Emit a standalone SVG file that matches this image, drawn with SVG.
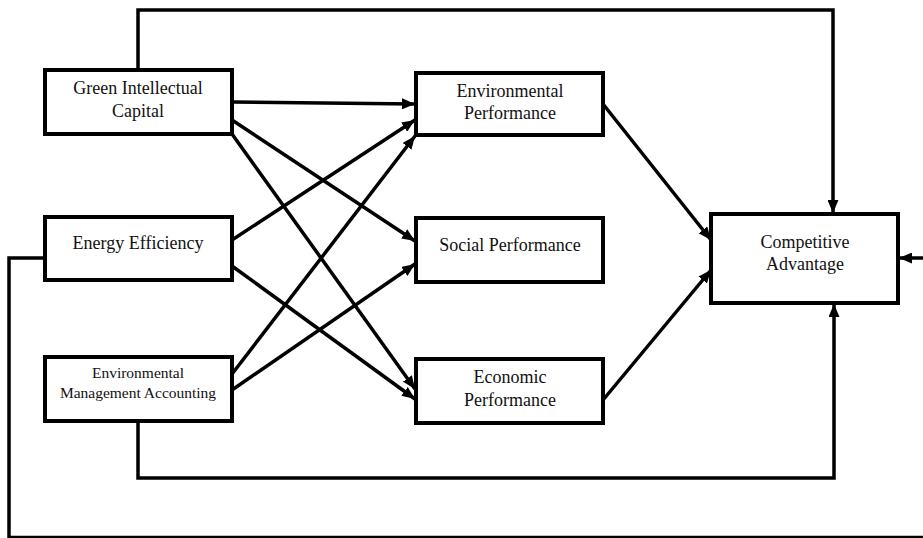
<svg xmlns="http://www.w3.org/2000/svg" width="923" height="538" viewBox="0 0 923 538">
<style>
.box{fill:#fff;stroke:#000;stroke-width:4}
.t{font-family:"Liberation Serif","Times New Roman",serif;font-size:18px;fill:#111;text-anchor:middle}
.s{font-size:15.5px}
.c{fill:none;stroke:#000;stroke-width:3.5}
</style>
<defs>
<marker id="ah" markerUnits="userSpaceOnUse" markerWidth="13" markerHeight="11" refX="13" refY="5.5" orient="auto">
<path d="M0,0 L13,5.5 L0,11 z" fill="#000"/>
</marker>
</defs>
<rect width="923" height="538" fill="#fff"/>
<g id="connectors">
<path class="c" d="M138,70 V10 H833 V213" marker-end="url(#ah)"/>
<path class="c" d="M232,102 L415,104" marker-end="url(#ah)"/>
<path class="c" d="M232,120 L415,241" marker-end="url(#ah)"/>
<path class="c" d="M232,134 L415,389" marker-end="url(#ah)"/>
<path class="c" d="M232,240 L415,120" marker-end="url(#ah)"/>
<path class="c" d="M232,266 L415,399" marker-end="url(#ah)"/>
<path class="c" d="M232,374 L415,136" marker-end="url(#ah)"/>
<path class="c" d="M232,390 L415,264" marker-end="url(#ah)"/>
<path class="c" d="M603,104 L711,240" marker-end="url(#ah)"/>
<path class="c" d="M603,400 L711,270" marker-end="url(#ah)"/>
<path class="c" d="M138,421 V478 H834 V304" marker-end="url(#ah)"/>
<path class="c" d="M45,258 H9 V537.5 H930 V258 H899" marker-end="url(#ah)"/>
</g>
<g id="gic">
<rect class="box" x="45" y="70" width="187" height="64"/>
<text class="t" x="138" y="94">Green Intellectual</text>
<text class="t" x="138" y="117">Capital</text>
</g>
<g id="ee">
<rect class="box" x="45" y="217" width="187" height="63"/>
<text class="t" x="138" y="249">Energy Efficiency</text>
</g>
<g id="ema">
<rect class="box" x="45" y="357" width="187" height="64"/>
<text class="t s" x="138" y="378">Environmental</text>
<text class="t s" x="138" y="398">Management Accounting</text>
</g>
<g id="ep">
<rect class="box" x="416" y="73" width="187" height="62"/>
<text class="t" x="510" y="97">Environmental</text>
<text class="t" x="510" y="119">Performance</text>
</g>
<g id="sp">
<rect class="box" x="416" y="218" width="187" height="64"/>
<text class="t" x="510" y="251">Social Performance</text>
</g>
<g id="ecp">
<rect class="box" x="416" y="359" width="187" height="64"/>
<text class="t" x="510" y="383">Economic</text>
<text class="t" x="510" y="406">Performance</text>
</g>
<g id="ca">
<rect class="box" x="711" y="214" width="187" height="89"/>
<text class="t" x="805" y="248">Competitive</text>
<text class="t" x="805" y="270">Advantage</text>
</g>
</svg>
